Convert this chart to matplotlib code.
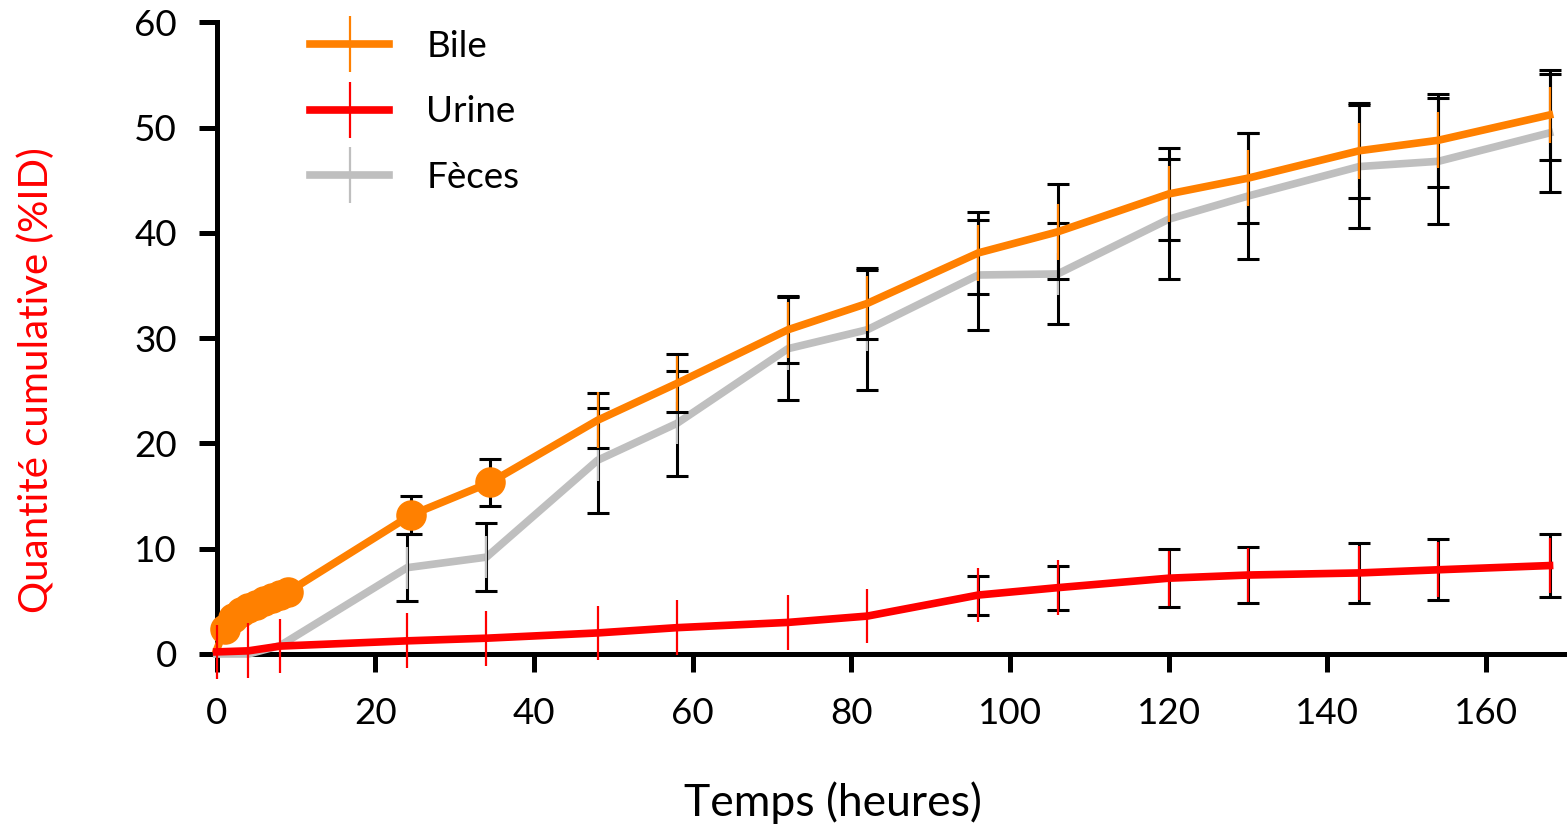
import numpy as np
import matplotlib
matplotlib.use("Agg")
import matplotlib.pyplot as plt
from matplotlib.lines import Line2D
from matplotlib.legend_handler import HandlerTuple

plt.rcParams['font.family'] = ['Lato', 'DejaVu Sans']

nan = np.nan

# Collection times (hours)
hours = [0, 4, 8, 24, 34, 48, 58, 72, 82, 96, 106, 120, 130, 144, 154, 168]

# Bile: hourly samples over the first 9 h, then the later collections
bile_hours = [0, 1, 2, 3, 4, 5, 6, 7, 8, 9, 24.5, 34.5,
              48, 58, 72, 82, 96, 106, 120, 130, 144, 154, 168]
bile_mean = [0.4, 2.4, 3.4, 4.0, 4.4, 4.7, 5.0, 5.3, 5.6, 5.9, 13.2, 16.3,
             22.2, 25.7, 30.8, 33.3, 38.1, 40.1, 43.7, 45.2, 47.8, 48.8, 51.2]
bile_sd = [nan] * 10 + [1.8, 2.2,
                        2.6, 2.75, 3.2, 3.4, 3.9, 4.5, 4.4, 4.3, 4.5, 4.4, 4.3]
bile_err = [nan] * 12 + [2.65] * 11

# Urine
urine_mean = [0.2, 0.3, 0.75, 1.25, 1.5, 2.0, 2.5, 3.0, 3.6,
              5.6, 6.3, 7.2, 7.5, 7.7, 8.0, 8.4]
urine_sd = [nan] * 9 + [1.85, 2.1, 2.75, 2.65, 2.85, 2.9, 3.0]
urine_err = [2.6] * 16

# Faeces
feces_mean = [0.0, 0.0, 0.8, 8.2, 9.2, 18.4, 21.9, 29.0, 30.8,
              36.0, 36.1, 41.3, 43.5, 46.3, 46.8, 49.5]
feces_sd = [nan, nan, nan, 3.2, 3.2, 5.0, 5.0, 4.9, 5.7,
            5.2, 4.8, 5.7, 6.0, 5.8, 6.0, 5.6]
feces_err = [nan, nan, nan] + [2.0] * 13

x_ticks = [0, 20, 40, 60, 80, 100, 120, 140, 160]
y_ticks = [0, 10, 20, 30, 40, 50, 60]

ORANGE = '#FF8000'
RED = '#FF0000'
GREY = '#BFBFBF'

W, H = 1567, 827
fig = plt.figure(figsize=(W / 100, H / 100), dpi=100)
ax = fig.add_axes([0.1383, 0.2092, 1 - 0.1383, 0.973 - 0.2092])


def black_bars(x, y, e, z):
    x, y, e = map(np.asarray, (x, y, e))
    m = np.isfinite(e)
    ax.errorbar(x[m], y[m], yerr=e[m], fmt='none', ecolor='black',
                elinewidth=2.2, capsize=8, capthick=2.2, zorder=z, clip_on=False)


def thin_bars(x, y, e, color, z):
    x, y, e = map(np.asarray, (x, y, e))
    m = np.isfinite(e)
    ax.vlines(x[m], y[m] - e[m], y[m] + e[m], colors=color, linewidth=1.6,
              zorder=z, clip_on=False)


# Faeces
ax.plot(hours, feces_mean, color=GREY, lw=5.5, zorder=3, clip_on=False)
black_bars(hours, feces_mean, feces_sd, 4)
thin_bars(hours, feces_mean, feces_err, GREY, 5)

# Bile
black_bars(bile_hours, bile_mean, bile_sd, 6)
thin_bars(bile_hours, bile_mean, bile_err, ORANGE, 7)
ax.plot(bile_hours, bile_mean, color=ORANGE, lw=5.5, zorder=8, clip_on=False,
        marker='o', markersize=22, markevery=list(range(1, 12)),
        markeredgewidth=0)

# Urine
black_bars(hours, urine_mean, urine_sd, 9)
thin_bars(hours, urine_mean, urine_err, RED, 10)
ax.plot(hours, urine_mean, color=RED, lw=5.5, zorder=11, clip_on=False)

ax.set_xlim(0, 170.2)
ax.set_ylim(0, 60)
ax.set_xticks(x_ticks)
ax.set_yticks(y_ticks)
for s in ('top', 'right'):
    ax.spines[s].set_visible(False)
for s in ('left', 'bottom'):
    ax.spines[s].set_linewidth(3.6)
ax.tick_params(axis='both', width=3.6, labelsize=26.5)
ax.tick_params(axis='x', length=13, pad=18)
ax.tick_params(axis='y', length=13, pad=15.5)

fig.text(833 / W, 1 - 803 / H, 'Temps (heures)', fontsize=32,
         ha='center', va='center')
fig.text(36 / W, 1 - 380 / H, 'Quantité cumulative (%ID)', fontsize=29,
         color=RED, rotation=90, ha='center', va='center')

handles = []
for c in (ORANGE, RED, GREY):
    h_line = Line2D([], [], color=c, lw=5.5)
    h_bar = Line2D([], [], color=c, marker='|', markersize=40,
                   markeredgewidth=1.6, linestyle='none')
    handles.append((h_line, h_bar))
fig.legend(handles, ['Bile', 'Urine', 'Fèces'],
           handler_map={tuple: HandlerTuple(ndivide=1)},
           loc='upper left', bbox_to_anchor=(0.1978, 1 - 30 / H),
           frameon=False, fontsize=26.5, handlelength=2.16,
           handletextpad=1.0, labelspacing=0.88, borderpad=0,
           borderaxespad=0, numpoints=1)

fig.savefig('out.png', dpi=100)
